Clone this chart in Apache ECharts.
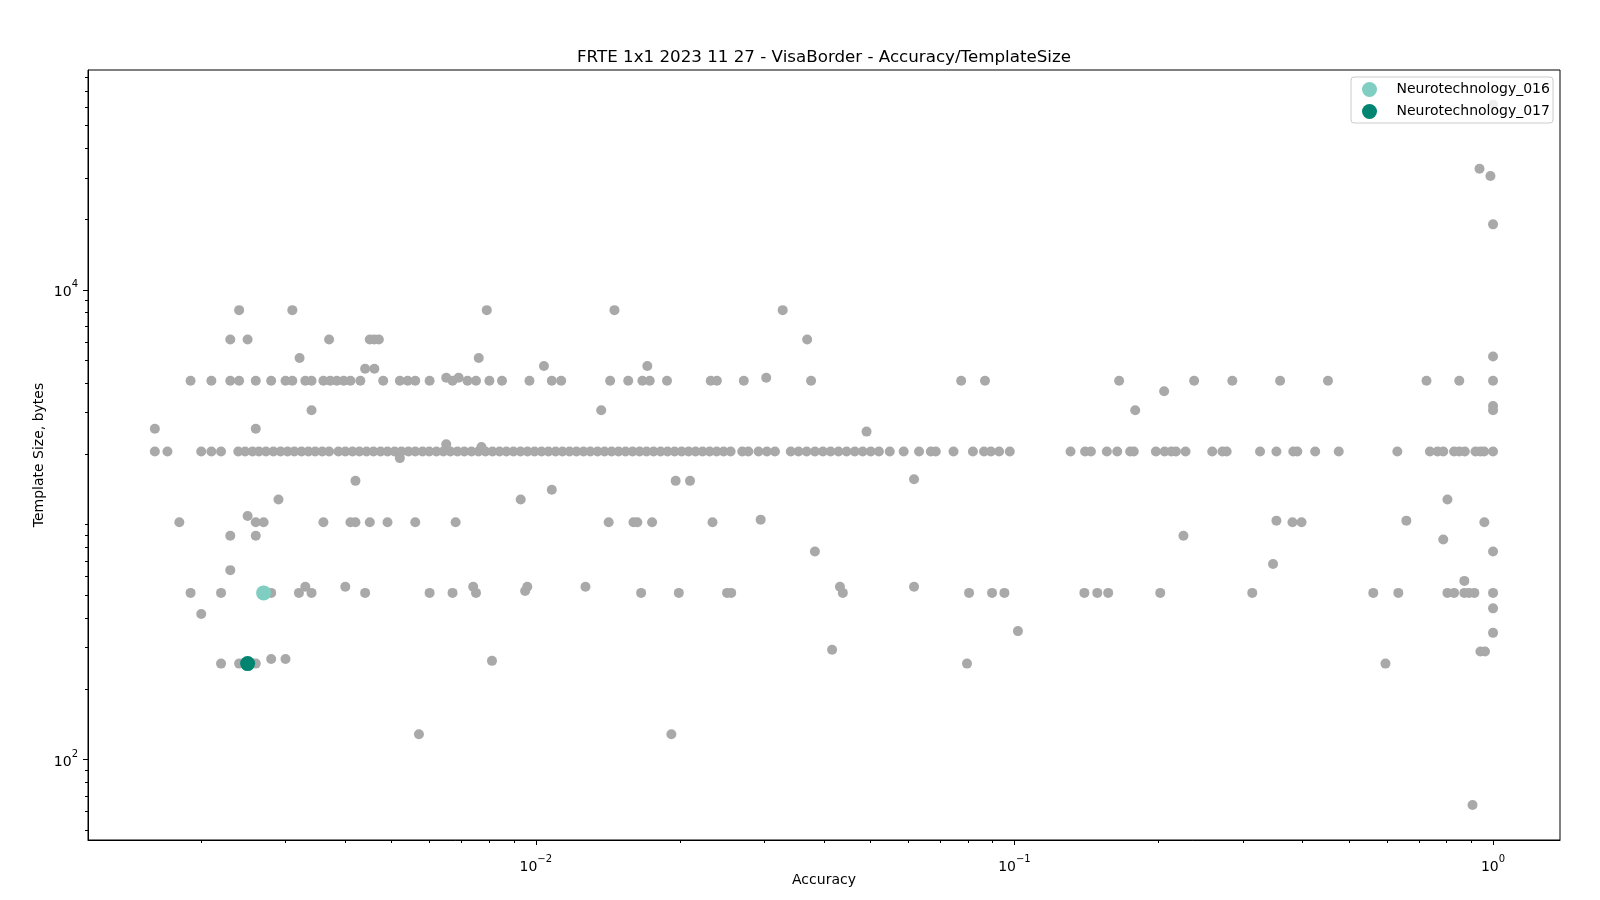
<!DOCTYPE html>
<html><head><meta charset="utf-8">
<script src="https://cdn.jsdelivr.net/npm/echarts@6/dist/echarts.min.js"></script>
<style>html,body{margin:0;padding:0;background:#fff}#c{width:1600px;height:900px}</style>
</head><body><div id="c"></div>
<script>
// ---- data (Accuracy values per template-size row) ----
const sizes = [61440, 32768, 30500, 19000, 8192, 6144, 5200, 5120, 4736, 4608, 4224, 4096, 3700, 3200, 3072, 2560, 2490, 2200, 2140, 2048, 1920, 1560, 1536, 1408, 1280, 1088, 1050, 1040, 1024, 896, 864, 768, 680, 640, 576, 544, 522, 512, 440, 416, 352, 346, 293, 288, 268, 263, 256, 128, 64];
const acc61440 = [1.0];
const acc32768 = [0.937];
const acc30500 = [0.9875];
const acc19000 = [1.0];
const acc8192 = [0.0024, 0.0031, 0.0079, 0.0146, 0.0328];
const acc6144 = [0.0023, 0.0025, 0.0037, 0.0045, 0.0046, 0.0047, 0.0369];
const acc5200 = [1.0];
const acc5120 = [0.00321, 0.0076];
const acc4736 = [0.0104, 0.0171];
const acc4608 = [0.0044, 0.0046];
const acc4224 = [0.0065, 0.0069, 0.0303];
const acc4096 = [0.0019, 0.0021, 0.0023, 0.0024, 0.0026, 0.0028, 0.0030, 0.0031, 0.0033, 0.0034, 0.0036, 0.00372, 0.00384, 0.00397, 0.0041, 0.0043, 0.0048, 0.0052, 0.0054, 0.0056, 0.0060, 0.0067, 0.0072, 0.0075, 0.0080, 0.0085, 0.0097, 0.0108, 0.0113, 0.0143, 0.0156, 0.0167, 0.0173, 0.0188, 0.0232, 0.0239, 0.0272, 0.0376, 0.0774, 0.0868, 0.1655, 0.2374, 0.2853, 0.359, 0.452, 0.726, 0.850, 1.0];
const acc3700 = [0.2055];
const acc3200 = [1.0];
const acc3072 = [0.0034, 0.0137, 0.1788, 1.0];
const acc2560 = [0.0016, 0.0026];
const acc2490 = [0.0491];
const acc2200 = [0.0065];
const acc2140 = [0.0077];
const acc2048 = [0.0016, 0.0017, 0.0020, 0.0021, 0.0022,
  0.00239, 0.00247, 0.00256, 0.00264, 0.00273, 0.00283, 0.00293, 0.00303, 0.00313, 0.00324, 0.00335, 0.00346, 0.00358, 0.00370,
  0.00387, 0.00400, 0.00414, 0.00428, 0.00443, 0.00458, 0.00474, 0.00490, 0.00507, 0.00524,
  0.00542, 0.00560, 0.00580, 0.00599, 0.00620, 0.00641, 0.00663, 0.00686, 0.00709, 0.00734, 0.00759, 0.00785, 0.00812, 0.00840, 0.00868, 0.00898, 0.00929, 0.00961, 0.00994,
  0.01028, 0.01063, 0.0110, 0.01137, 0.01176, 0.01216, 0.01258, 0.0130, 0.01346, 0.01392, 0.0144, 0.01489, 0.0154, 0.01593, 0.01648, 0.01704, 0.01762, 0.01823, 0.01885, 0.0195, 0.02017, 0.02086, 0.02157, 0.02231, 0.02308, 0.02387, 0.02469, 0.02553,
  0.0270, 0.0278, 0.0292, 0.0304, 0.0316, 0.0341, 0.0354, 0.0368, 0.0383, 0.0398, 0.0413, 0.0429, 0.0446, 0.0464, 0.0482, 0.0501, 0.0521, 0.0549, 0.0587, 0.0632, 0.0669, 0.0685, 0.0746, 0.0819, 0.0864, 0.0893, 0.0929, 0.0978,
  0.131, 0.1405, 0.1445, 0.156, 0.164, 0.1745, 0.1776, 0.1975, 0.206, 0.2127, 0.2175, 0.2278, 0.259, 0.272, 0.2776, 0.326, 0.3527, 0.3825, 0.390, 0.425, 0.476, 0.631, 0.738, 0.7655, 0.787, 0.829, 0.850, 0.873, 0.919, 0.941, 0.958, 1.0];
const acc1920 = [0.0052];
const acc1560 = [0.0617];
const acc1536 = [0.0042, 0.0196, 0.0210];
const acc1408 = [0.0108];
const acc1280 = [0.0029, 0.0093, 0.803];
const acc1088 = [0.0025];
const acc1050 = [0.0295];
const acc1040 = [0.3527, 0.659];
const acc1024 = [0.0018, 0.0026, 0.0027, 0.0036, 0.0041, 0.0042, 0.0045, 0.0049, 0.0056, 0.0068, 0.0142, 0.0160, 0.0163, 0.0175, 0.0234, 0.381, 0.398, 0.959];
const acc896 = [0.0023, 0.0026, 0.2255];
const acc864 = [0.787];
const acc768 = [0.0383, 1.0];
const acc680 = [0.347];
const acc640 = [0.0023];
const acc576 = [0.871];
const acc544 = [0.0033, 0.0040, 0.0074, 0.0096, 0.0127, 0.0432, 0.0617];
const acc522 = [0.0095];
const acc512 = [0.0019, 0.0022, 0.0028, 0.0032, 0.0034, 0.0044, 0.0060, 0.0067, 0.0075, 0.0166, 0.0199, 0.0251, 0.0256, 0.0438, 0.0804, 0.0898, 0.0953, 0.140, 0.149, 0.157, 0.2017, 0.314, 0.562, 0.634, 0.803, 0.829, 0.871, 0.891, 0.914, 1.0];
const acc440 = [1.0];
const acc416 = [0.0020];
const acc352 = [0.1017];
const acc346 = [1.0];
const acc293 = [0.0416];
const acc288 = [0.941, 0.962];
const acc268 = [0.0028, 0.0030];
const acc263 = [0.0081];
const acc256 = [0.0022, 0.0024, 0.0026, 0.0796, 0.596];
const acc128 = [0.0057, 0.0192];
const acc64 = [0.906];
const accBySize = [acc61440, acc32768, acc30500, acc19000, acc8192, acc6144, acc5200, acc5120, acc4736, acc4608, acc4224, acc4096, acc3700, acc3200, acc3072, acc2560, acc2490, acc2200, acc2140, acc2048, acc1920, acc1560, acc1536, acc1408, acc1280, acc1088, acc1050, acc1040, acc1024, acc896, acc864, acc768, acc680, acc640, acc576, acc544, acc522, acc512, acc440, acc416, acc352, acc346, acc293, acc288, acc268, acc263, acc256, acc128, acc64];

const hlNames = ['Neurotechnology_016', 'Neurotechnology_017'];
const hlAcc = [0.0027, 0.0025];
const hlSize = [512, 256];
const hlColors = ['#80cdc1', '#018571'];

const xMajor = [0.01, 0.1, 1];
const xMinor = [0.002,0.003,0.004,0.005,0.006,0.007,0.008,0.009,0.02,0.03,0.04,0.05,0.06,0.07,0.08,0.09,0.2,0.3,0.4,0.5,0.6,0.7,0.8,0.9];
const yMajor = [100, 10000];
const yMinor = [50,60,70,80,90,200,300,400,500,600,700,800,900,1000,2000,3000,4000,5000,6000,7000,8000,9000,20000,30000,40000,50000,60000,70000,80000];

const X_MIN = 0.00116, X_MAX = 1.38, Y_MIN = 45.4, Y_MAX = 86300;

// ---- build ----
const grey = [];
sizes.forEach((s, i) => accBySize[i].forEach(a => grey.push([a, s])));

function fmt(v) {
  const e = Math.log10(v), r = Math.round(e);
  if (Math.abs(e - r) > 1e-6) return '';
  return '{b|10}{s|' + (r < 0 ? '\u2212' + (-r) : String(r)) + '}';
}
const rich = {
  b: { fontFamily: 'DejaVu Sans', fontSize: 14, color: '#000', lineHeight: 20, verticalAlign: 'bottom' },
  s: { fontFamily: 'DejaVu Sans', fontSize: 10, color: '#000', lineHeight: 10, verticalAlign: 'top' }
};
const FONT = 'DejaVu Sans';
const chart = echarts.init(document.getElementById('c'), null, { renderer: 'canvas' });
const baseAxis = { type: 'log', logBase: 10, splitLine: { show: false } };
chart.setOption({
  animation: false,
  backgroundColor: '#fff',
  grid: { left: 88, right: 40, top: 70, bottom: 60, show: true, borderColor: '#000', borderWidth: 1, backgroundColor: 'transparent' },
  graphic: [
    { type: 'text', x: 824, y: 58, z: 10, style: { text: 'FRTE 1x1 2023 11 27 - VisaBorder - Accuracy/TemplateSize', font: '16.7px "DejaVu Sans"', fill: '#000', textAlign: 'center', textVerticalAlign: 'middle' } },
    { type: 'rect', z: 20, shape: { x: 1351, y: 77, width: 202, height: 46, r: 3 }, style: { fill: 'rgba(255,255,255,0.8)', stroke: '#cccccc', lineWidth: 1 } }
  ],
  legend: {
    data: hlNames, orient: 'vertical', left: 1362, top: 82, padding: 0, z: 30,
    icon: 'circle', itemWidth: 44, itemHeight: 15, itemGap: 7,
    textStyle: { fontFamily: FONT, fontSize: 14, color: '#000', lineHeight: 15, padding: [0, 0, 0, 0] }
  },
  xAxis: [
    Object.assign({}, baseAxis, {
      min: X_MIN, max: X_MAX, position: 'bottom',
      name: 'Accuracy', nameLocation: 'middle', nameGap: 33, nameMoveOverlap: false,
      nameTextStyle: { fontFamily: FONT, fontSize: 14, color: '#000' },
      axisLine: { show: true, lineStyle: { color: '#000', width: 1 } },
      axisTick: { show: true, length: 5, lineStyle: { color: '#000', width: 1 }, customValues: xMajor },
      axisLabel: { show: true, margin: 14, formatter: fmt, rich: rich, customValues: xMajor }
    }),
    Object.assign({}, baseAxis, {
      min: X_MIN, max: X_MAX, position: 'bottom',
      axisLine: { show: false },
      axisTick: { show: true, length: 3, lineStyle: { color: '#000', width: 1 }, customValues: xMinor },
      axisLabel: { show: false }
    })
  ],
  yAxis: [
    Object.assign({}, baseAxis, {
      min: Y_MIN, max: Y_MAX, position: 'left',
      name: 'Template Size, bytes', nameLocation: 'middle', nameGap: 42, nameRotate: 90, nameMoveOverlap: false,
      nameTextStyle: { fontFamily: FONT, fontSize: 14, color: '#000' },
      axisLine: { show: true, lineStyle: { color: '#000', width: 1 } },
      axisTick: { show: true, length: 5, lineStyle: { color: '#000', width: 1 }, customValues: yMajor },
      axisLabel: { show: true, margin: 10, formatter: fmt, rich: rich, customValues: yMajor }
    }),
    Object.assign({}, baseAxis, {
      min: Y_MIN, max: Y_MAX, position: 'left',
      axisLine: { show: false },
      axisTick: { show: true, length: 3, lineStyle: { color: '#000', width: 1 }, customValues: yMinor },
      axisLabel: { show: false }
    })
  ],
  series: [
    { type: 'scatter', name: 'others', data: grey, symbolSize: 10, itemStyle: { color: '#a9a9a9', opacity: 1 }, z: 2, silent: true },
    { type: 'scatter', name: hlNames[0], data: [[hlAcc[0], hlSize[0]]], symbolSize: 15, itemStyle: { color: hlColors[0], opacity: 1 }, z: 3 },
    { type: 'scatter', name: hlNames[1], data: [[hlAcc[1], hlSize[1]]], symbolSize: 15, itemStyle: { color: hlColors[1], opacity: 1 }, z: 3 }
  ]
});
</script></body></html>
